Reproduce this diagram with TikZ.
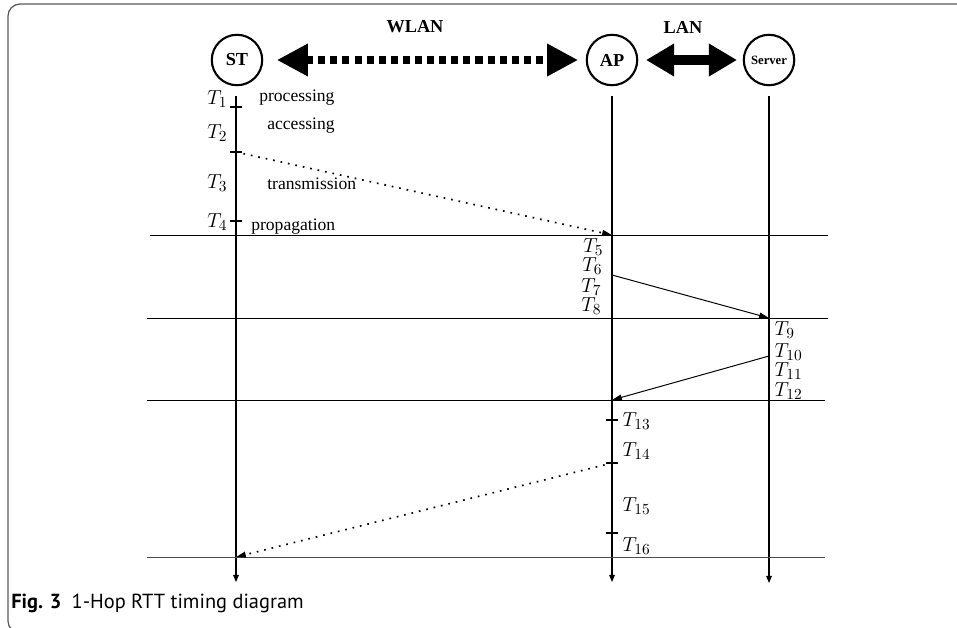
\documentclass[tikz,border=0pt]{standalone}
\usepackage{fontspec}
\setmainfont{Liberation Serif}
\newfontfamily\capfont{PT Sans}
\usepackage{tikz}
\usetikzlibrary{positioning,calc}
\usetikzlibrary{arrows.meta}
\definecolor{FrameGray}{RGB}{90,90,90}
\tikzset{
  actor/.style={circle,draw=black,fill=white,line width=1.5pt,minimum size=1.26cm,inner sep=0pt,font=\bfseries\fontsize{13}{15}\selectfont},
  life/.style={draw=black,line width=0.8pt,-{Triangle[length=5pt,width=4pt]}},
  sep/.style={draw=black,line width=0.7pt},
  tick/.style={draw=black,line width=0.8pt},
  msg/.style={draw=black,line width=0.7pt,-{Triangle[length=7pt,width=4pt]}},
  wmsg/.style={msg,line width=1.2pt,dash pattern=on 1.2pt off 4.2pt},
  phase/.style={font=\fontsize{12.5}{14}\selectfont,inner sep=0pt},
  tl/.style={font=\fontsize{15}{17}\selectfont,inner sep=1pt},
}
\tikzset{net/.style={font=\bfseries\fontsize{13}{15}\selectfont}, frame/.style={draw=FrameGray,line width=0.9pt,rounded corners=0.3cm}}

\begin{document}
\begin{tikzpicture}[x=0.025cm,y=-0.025cm]
\useasboundingbox (0,0) rectangle (957,627);
\draw[frame] (957,4) -- (8,4) -- (8,633) -- (24,633);
% hosts
\node[actor] (st) at (237,60) {ST};
\node[actor] (ap) at (612,60) {AP};
\node[actor,font=\bfseries\fontsize{9}{11}\selectfont] (srv) at (769,60) {Server};
\node[net] (wlan) at (415,27) {WLAN};
\node[net] (lan) at (683,27) {LAN};
\coordinate (w1) at (277,60); \coordinate (w2) at (578,60);
\coordinate (l1) at (646,60); \coordinate (l2) at (737,60);
\draw[line width=5pt,dash pattern=on 5pt off 3.6pt,{Triangle[length=22pt,width=22pt]}-{Triangle[length=22pt,width=22pt]}] (w1) -- (w2);
\draw[line width=6.5pt,{Triangle[length=20pt,width=22pt]}-{Triangle[length=20pt,width=22pt]}] (l1) -- (l2);
% lifelines
\coordinate (stA) at (236,96);  \coordinate (stZ) at (236,582);
\coordinate (apA) at (612,96);  \coordinate (apZ) at (612,582);
\coordinate (srA) at (769,96);  \coordinate (srZ) at (769,583);
\draw[life] (stA) -- (stZ);
\draw[life] (apA) -- (apZ);
\draw[life] (srA) -- (srZ);
% separators
\coordinate (h1l) at (150,235); \coordinate (h1r) at (828,235);
\coordinate (h2l) at (147,318); \coordinate (h2r) at (828,318);
\coordinate (h3l) at (147,400); \coordinate (h3r) at (825,400);
\coordinate (h4l) at (147,557); \coordinate (h4r) at (825,557);
\draw[sep] (h1l) -- (h1r);
\draw[sep] (h2l) -- (h2r);
\draw[sep] (h3l) -- (h3r);
\draw[sep,draw=black!70] (h4l) -- (h4r);
% ticks
\foreach \y/\n in {107/s1,152/s2,221/s3}{
  \coordinate (\n) at (236,\y);
  \draw[tick] ([xshift=-4pt]\n) -- ([xshift=4pt]\n);
}
\foreach \y/\n in {420/a1,463/a2,533/a3}{
  \coordinate (\n) at (612,\y);
  \draw[tick] ([xshift=-4pt]\n) -- ([xshift=4pt]\n);
}
\coordinate (stIn) at (236,235);
\coordinate (apIn) at (612,235);
\coordinate (apOut) at (612,275);
\coordinate (srIn) at (769,318);
\coordinate (srOut) at (769,356);
\coordinate (apIn2) at (612,400);
\coordinate (stIn2) at (236,557);
% messages
\draw[wmsg] (s2) -- (apIn);
\draw[msg] (apOut) -- (srIn);
\draw[msg] (srOut) -- (apIn2);
\draw[wmsg] (a2) -- (stIn2);
% labels
\node[tl,anchor=east] (t1) at (229,99) {$T_{1}$};
\node[tl,anchor=east] (t2) at (229,133) {$T_{2}$};
\node[tl,anchor=east] (t3) at (229,183) {$T_{3}$};
\node[tl,anchor=east] (t4) at (229,222) {$T_{4}$};
\node[phase,anchor=west] (p1) at (259,98) {processing};
\node[phase,anchor=west] (p2) at (267,126) {accessing};
\node[phase,anchor=west] (p3) at (267,184) {transmission};
\node[phase,anchor=west] (p4) at (251,227) {propagation};
\node[tl,anchor=east] (t5) at (605,247) {$T_{5}$};
\node[tl,anchor=east] (t6) at (604,266) {$T_{6}$};
\node[tl,anchor=east] (t7) at (603,287) {$T_{7}$};
\node[tl,anchor=east] (t8) at (603,306) {$T_{8}$};
\node[tl,anchor=west] (t9) at (773,330) {$T_{9}$};
\node[tl,anchor=west] (t10) at (773,352) {$T_{10}$};
\node[tl,anchor=west] (t11) at (773,371) {$T_{11}$};
\node[tl,anchor=west] (t12) at (773,391) {$T_{12}$};
\node[tl,anchor=west] (t13) at (621,421) {$T_{13}$};
\node[tl,anchor=west] (t14) at (621,451) {$T_{14}$};
\node[tl,anchor=west] (t15) at (621,506) {$T_{15}$};
\node[tl,anchor=west] (t16) at (621,546) {$T_{16}$};
% caption
\node[anchor=west,inner sep=0pt,font=\capfont\fontsize{14.5}{17}\selectfont] (cap) at (11,603) {\textbf{Fig. 3}\enspace 1-Hop RTT timing diagram};
\end{tikzpicture}
\end{document}
